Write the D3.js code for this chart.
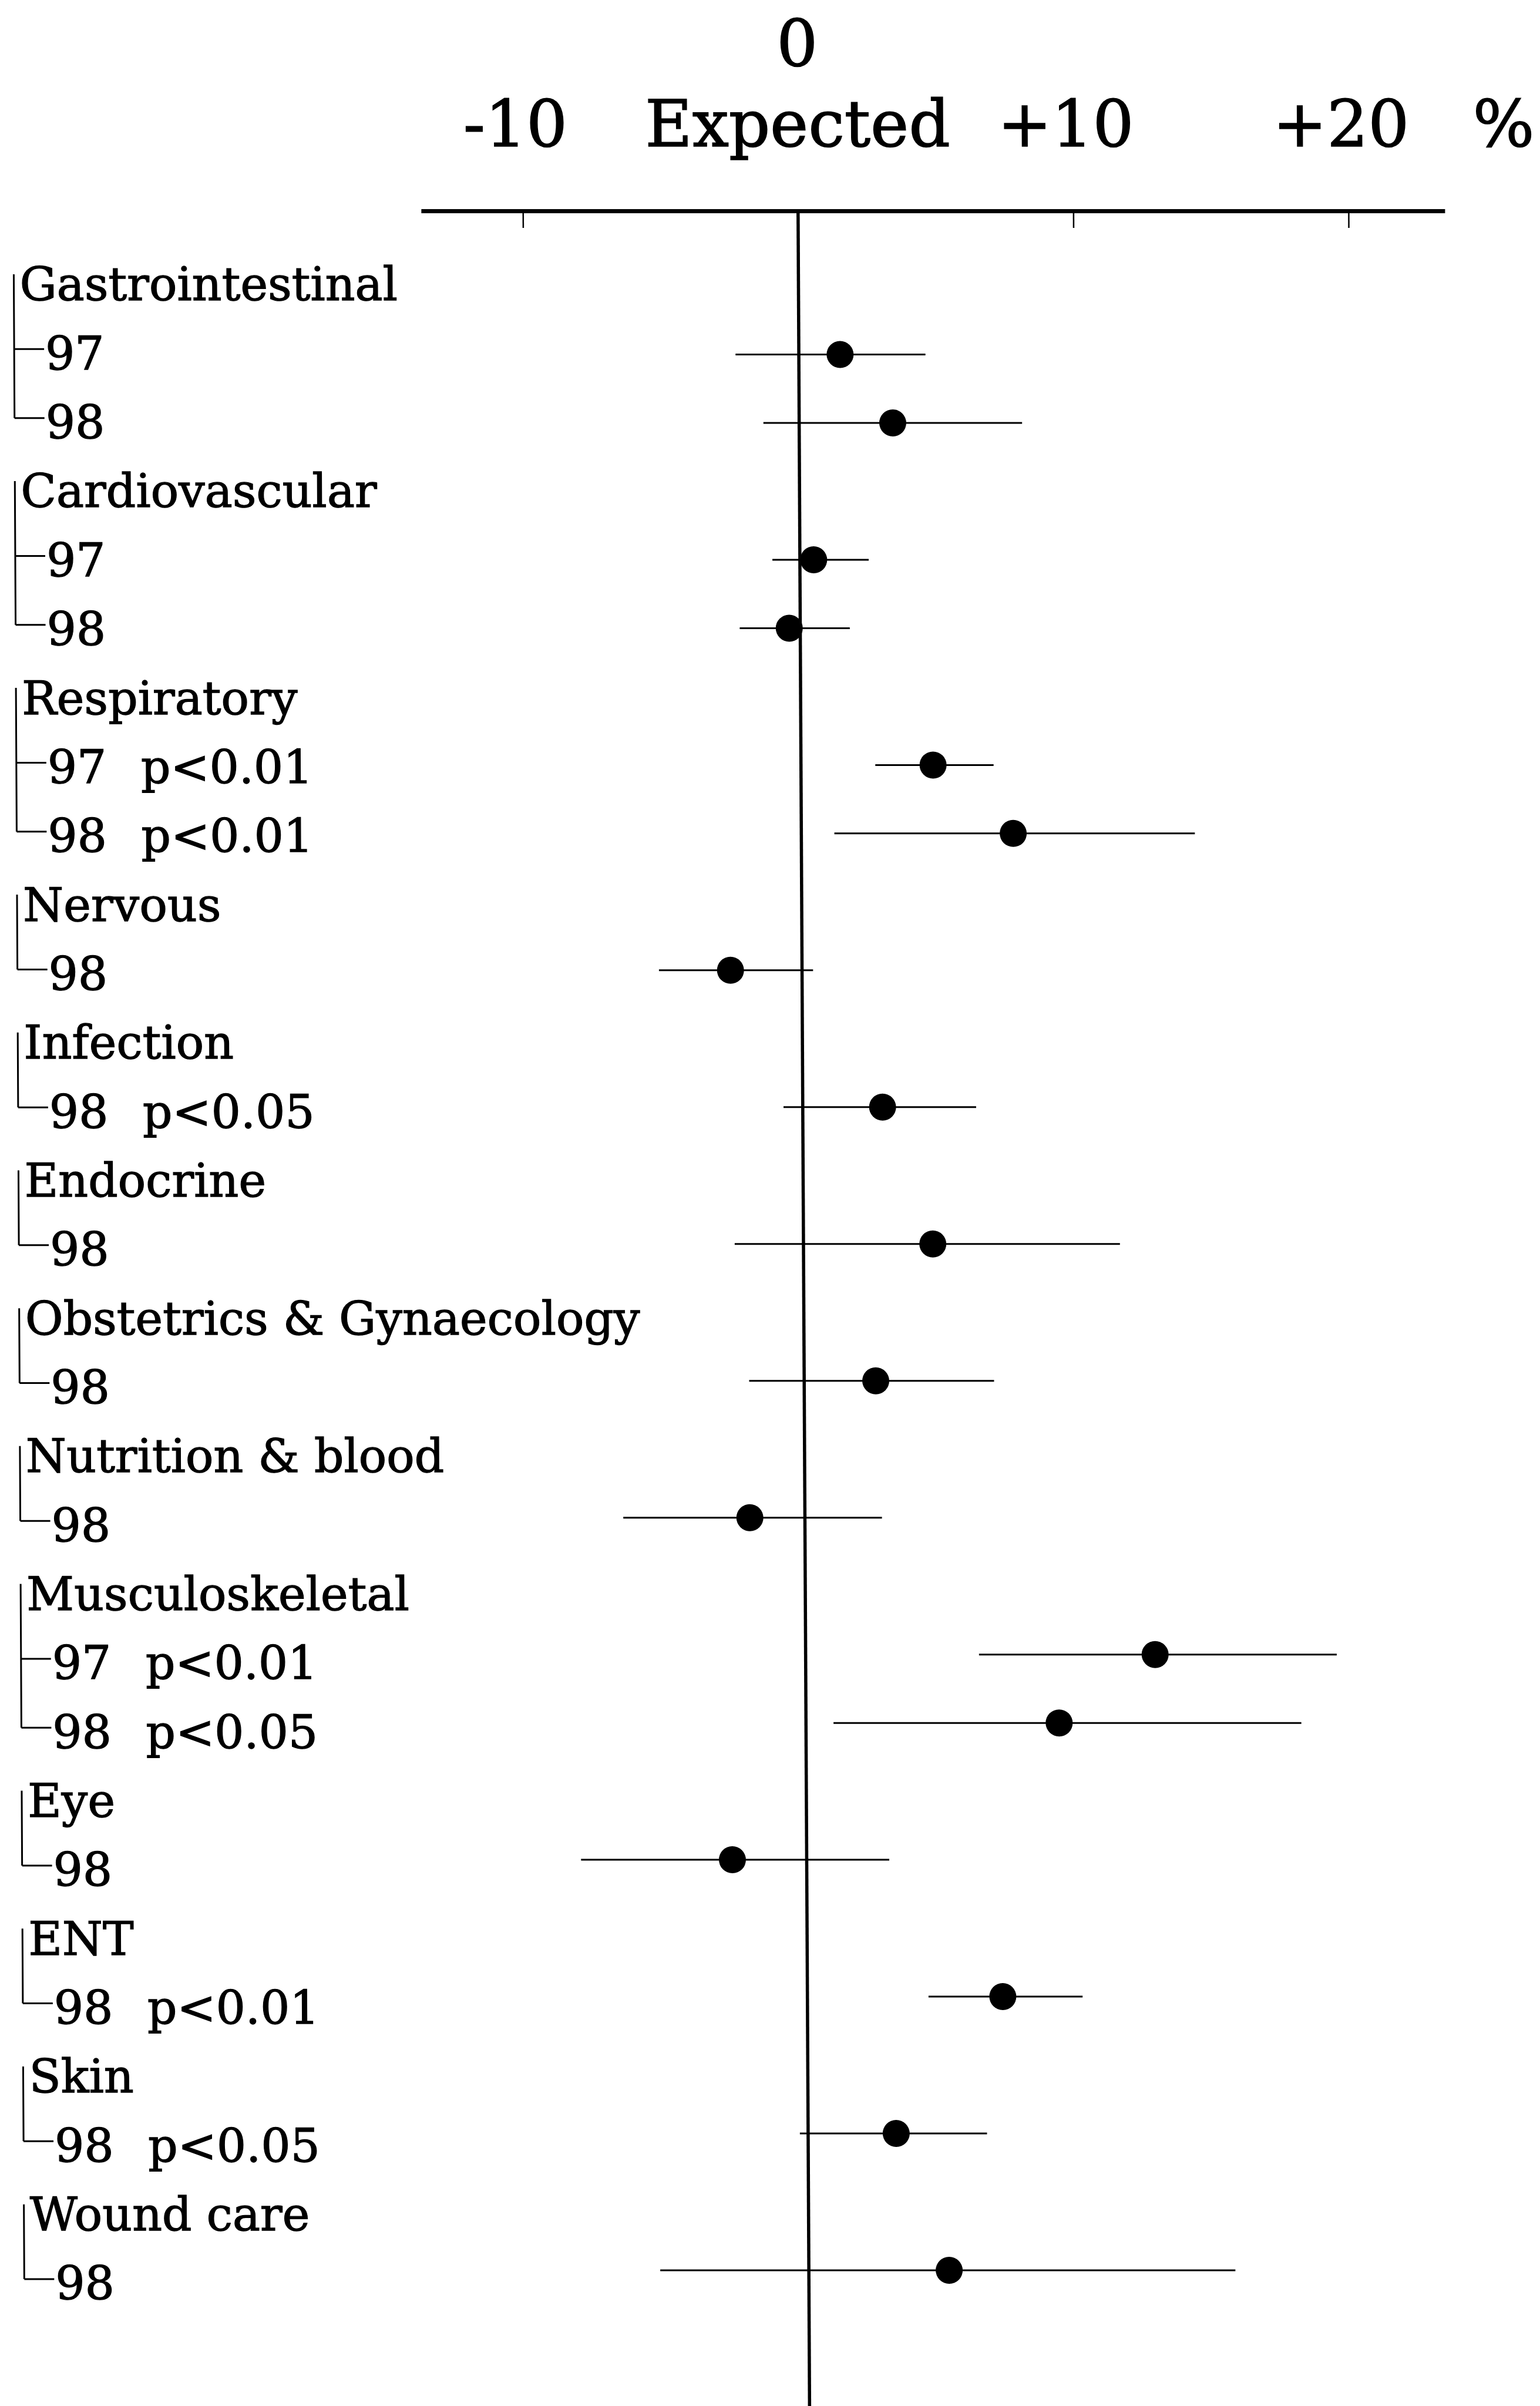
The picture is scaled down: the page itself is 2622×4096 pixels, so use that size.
<!DOCTYPE html>
<html>
<head>
<meta charset="utf-8">
<script src="https://cdn.jsdelivr.net/npm/d3@7"></script>
<style>
    html, body { margin: 0; padding: 0; background: #fff; }
    svg { display: block; }
    .label { font-family: "DejaVu Serif", serif; font-size: 79px; fill: #000; stroke: #000; stroke-width: 1.3px; }
    .head { font-family: "DejaVu Serif", serif; font-size: 110px; fill: #000; stroke: #000; stroke-width: 1.6px; }
</style>
</head>
<body>
<script>
// Specialty groups, in the order they are listed
var groups = ["Gastrointestinal", "Cardiovascular", "Respiratory", "Nervous", "Infection",
    "Endocrine", "Obstetrics & Gynaecology", "Nutrition & blood", "Musculoskeletal",
    "Eye", "ENT", "Skin", "Wound care"];

// One entry per plotted row (index into groups, year, significance)
var rowGroup = [0, 0, 1, 1, 2, 2, 3, 4, 5, 6, 7, 8, 8, 9, 10, 11, 12];
var rowYear = ["97", "98", "97", "98", "97", "98", "98", "98", "98", "98", "98", "97", "98", "98", "98", "98", "98"];
var rowSig = ["", "", "", "", "p<0.01", "p<0.01", "", "p<0.05", "", "", "", "p<0.01", "p<0.05", "", "p<0.01", "p<0.05", ""];

// % difference from expected, with lower and upper limits
var estimate = [1.5, 3.4, 0.5, -0.4, 4.8, 7.7, -2.6, 2.9, 4.7, 2.6, -2.0, 12.7, 9.2, -2.7, 7.1, 3.2, 5.1];
var lower = [-2.3, -1.3, -1.0, -2.2, 2.7, 1.2, -5.2, -0.7, -2.5, -2.0, -6.6, 6.3, 1.0, -8.2, 4.4, -0.3, -5.4];
var upper = [4.6, 8.1, 2.5, 1.8, 7.0, 14.3, 0.4, 6.3, 11.5, 6.9, 2.8, 19.3, 18.0, 3.0, 10.0, 6.5, 15.5];

// Axis ticks
var tickValues = [-10, 10, 20];
var tickLabels = ["-10", "+10", "+20"];

window.onload = setChart;

function setChart(){

    var width = 2622,
        height = 4096;

    var svg = d3.select("body")
        .append("svg")
        .attr("width", width)
        .attr("height", height);

    // the scanned original leans a little to the right going down
    var chart = svg.append("g")
        .attr("transform", "skewX(0.3)");

    // Build the list of text lines: a heading, then its rows
    var lines = [];
    groups.forEach(function(name, g){
        lines.push({kind: "head", text: name, group: g});
        rowGroup.forEach(function(rg, i){
            if (rg === g) lines.push({kind: "row", text: rowYear[i], sig: rowSig[i], group: g, row: i});
        });
    });
    lines.forEach(function(d, i){ d.index = i; });

    var x = d3.scaleLinear()
        .domain([-13.7, 23.5])
        .range([715, 2458]);

    var yText = d3.scalePoint()
        .domain(d3.range(lines.length))
        .range([483, 3886]);

    // markers sit slightly higher than the text further down the page
    var yMark = d3.scalePoint()
        .domain(d3.range(lines.length))
        .range([487, 3865]);

    var axisY = 359;

    // Top axis with short ticks hanging below
    var axis = chart.append("g")
        .attr("transform", "translate(0," + axisY + ")")
        .call(d3.axisBottom(x)
            .tickValues(tickValues)
            .tickSize(29)
            .tickSizeOuter(0)
            .tickFormat(""));
    axis.select(".domain")
        .attr("stroke", "#000")
        .attr("stroke-width", 7);
    axis.selectAll(".tick line")
        .attr("stroke", "#000")
        .attr("stroke-width", 2.5);

    // Zero ("Expected") line
    chart.append("line")
        .attr("x1", x(0))
        .attr("x2", x(0))
        .attr("y1", axisY)
        .attr("y2", height + 10)
        .attr("stroke", "#000")
        .attr("stroke-width", 5.5);

    // Header texts
    chart.append("text")
        .attr("class", "head")
        .attr("x", x(0))
        .attr("y", 112)
        .attr("text-anchor", "middle")
        .text("0");
    chart.append("text")
        .attr("class", "head")
        .attr("x", x(0))
        .attr("y", 249)
        .attr("text-anchor", "middle")
        .text("Expected");
    chart.selectAll(".tickLabel")
        .data(tickValues)
        .enter()
        .append("text")
        .attr("class", "head tickLabel")
        .attr("x", function(d){ return x(d) - 12; })
        .attr("y", 249)
        .attr("text-anchor", "middle")
        .text(function(d, i){ return tickLabels[i]; });
    chart.append("text")
        .attr("class", "head")
        .attr("x", x.range()[1] + 101)
        .attr("y", 249)
        .attr("text-anchor", "middle")
        .text("%");

    // Labels on the left
    var bracketX = 21,
        headX = 31,
        itemX = 74;

    var labels = chart.selectAll(".label")
        .data(lines)
        .enter()
        .append("text")
        .attr("class", "label")
        .attr("x", function(d){ return d.kind === "head" ? headX : itemX; })
        .attr("y", function(d){ return yText(d.index); })
        .attr("dy", "0.36em");
    labels.append("tspan")
        .text(function(d){ return d.text; });
    labels.filter(function(d){ return d.sig; })
        .append("tspan")
        .attr("x", itemX + 159)
        .text(function(d){ return d.sig; });

    // Brackets joining each heading to its years
    groups.forEach(function(name, g){
        var members = lines.filter(function(d){ return d.group === g; });
        var top = yText(members[0].index) - 16,
            bottom = yText(members[members.length - 1].index) - 6;
        var p = "M" + bracketX + "," + top + "V" + bottom;
        members.slice(1).forEach(function(d){
            p += "M" + bracketX + "," + (yText(d.index) - 6) + "H" + (itemX - 2);
        });
        chart.append("path")
            .attr("d", p)
            .attr("fill", "none")
            .attr("stroke", "#000")
            .attr("stroke-width", 3);
    });

    // Confidence intervals and point estimates
    var rows = lines.filter(function(d){ return d.kind === "row"; });

    chart.selectAll(".ci")
        .data(rows)
        .enter()
        .append("line")
        .attr("class", "ci")
        .attr("x1", function(d){ return x(lower[d.row]); })
        .attr("x2", function(d){ return x(upper[d.row]); })
        .attr("y1", function(d){ return yMark(d.index); })
        .attr("y2", function(d){ return yMark(d.index); })
        .attr("stroke", "#000")
        .attr("stroke-width", 3);

    chart.selectAll(".dot")
        .data(rows)
        .enter()
        .append("circle")
        .attr("class", "dot")
        .attr("cx", function(d){ return x(estimate[d.row]); })
        .attr("cy", function(d){ return yMark(d.index); })
        .attr("r", 23)
        .attr("fill", "#000");
}
</script>
</body>
</html>
